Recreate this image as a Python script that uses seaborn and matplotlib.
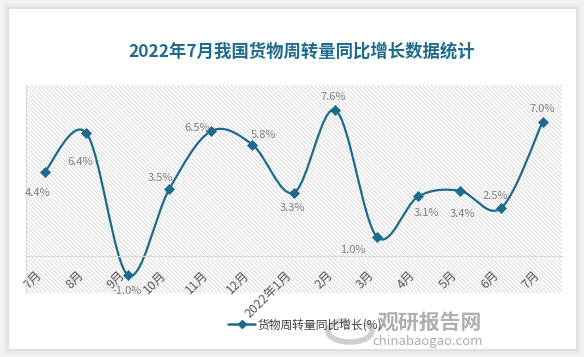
import matplotlib
matplotlib.use('Agg')
import matplotlib.pyplot as plt
import seaborn as sns
from matplotlib.path import Path
from matplotlib.patches import PathPatch, Rectangle, Arc
from matplotlib.lines import Line2D

# 数据
months = ['7月', '8月', '9月', '10月', '11月', '12月', '2022年1月',
          '2月', '3月', '4月', '5月', '6月', '7月']
growth = [4.4, 6.4, -1.0, 3.5, 6.5, 5.8, 3.3, 7.6, 1.0, 3.1, 3.4, 2.5, 7.0]
title = '2022年7月我国货物周转量同比增长数据统计'
series_name = '货物周转量同比增长(%)'

# 数据标签偏移（像素，向下为正）
label_offsets = [(-7, 21), (-6, 29), (-1, 16), (-9, -11), (-14, -3), (11, -10),
                 (-1, 15), (-2, -13), (-24, 13), (8, 17), (3, 23), (-6, -12), (0, -13)]

sns.set_style('white')
plt.rcParams['font.family'] = ['Noto Sans CJK SC', 'DejaVu Sans']
plt.rcParams['hatch.color'] = '#d4d4d4'
plt.rcParams['hatch.linewidth'] = 0.6

W, H = 584, 357
fx = lambda px: px / W
fy = lambda py: 1 - py / H
line_c = '#1c6a8c'

fig = plt.figure(figsize=(W / 100, H / 100), dpi=100)
fig.patch.set_facecolor('#f2f2f2')

# 卡片阴影 + 白底
for k, a in [(6, 0.03), (4, 0.05), (2, 0.08)]:
    fig.add_artist(Rectangle((fx(8.7 - k), fy(349 + k)), (567.3 + 2 * k) / W, (340.3 + 2 * k) / H,
                             transform=fig.transFigure, fc='#808080', alpha=a, lw=0, zorder=-3))
fig.add_artist(Rectangle((fx(8.7), fy(349)), 567.3 / W, 340.3 / H,
                         transform=fig.transFigure, fc='white', lw=0, zorder=-2))
# 斜纹绘图区
fig.add_artist(Rectangle((fx(25.7), fy(293)), (562 - 25.7) / W, (293 - 85) / H,
                         transform=fig.transFigure, fc='white', ec='#d4d4d4', lw=0,
                         hatch='\\' * 8, zorder=-1))

ax = fig.add_axes([fx(25.7), fy(293), (562 - 25.7) / W, (293 - 85) / H])
ax.set_zorder(1)
ax.patch.set_alpha(0)
for s in ['top', 'right']:
    ax.spines[s].set_visible(False)
ax.spines['left'].set_color('#d9d9d9')
ax.spines['left'].set_linewidth(0.8)
ax.spines['bottom'].set_position(('data', 0))
ax.spines['bottom'].set_color('#d9d9d9')
ax.spines['bottom'].set_linewidth(0.8)

xs = list(range(len(growth)))

# 平滑曲线（Excel 式贝塞尔）
verts = [(xs[0], growth[0])]
codes = [Path.MOVETO]
n = len(xs)
for i in range(n - 1):
    p0 = (xs[max(i - 1, 0)], growth[max(i - 1, 0)])
    p1 = (xs[i], growth[i])
    p2 = (xs[i + 1], growth[i + 1])
    p3 = (xs[min(i + 2, n - 1)], growth[min(i + 2, n - 1)])
    c1 = (p1[0] + (p2[0] - p0[0]) / 6, p1[1] + (p2[1] - p0[1]) / 6)
    c2 = (p2[0] - (p3[0] - p1[0]) / 6, p2[1] - (p3[1] - p1[1]) / 6)
    verts += [c1, c2, p2]
    codes += [Path.CURVE4] * 3
ax.add_patch(PathPatch(Path(verts, codes), fc='none', ec=line_c, lw=1.6, zorder=2))

sns.scatterplot(x=xs, y=growth, marker='D', s=26, color=line_c, edgecolor=line_c,
                linewidth=0.5, ax=ax, zorder=3, legend=False)

for x, v, (dx, dy) in zip(xs, growth, label_offsets):
    ax.annotate(f'{v:.1f}%', (x, v), xytext=(dx, -dy), textcoords='offset pixels',
                ha='center', va='center', fontsize=8, color='#7f7f7f', zorder=4)

ax.set_xlim(-0.465, 12.465)
ax.set_ylim(-1.93, 8.91)
ax.set_yticks([])
ax.set_xticks(xs)
ax.tick_params(axis='x', length=0, pad=9, labelsize=9, colors='#595959')
ax.set_xticklabels(months, rotation=45, ha='right', va='top')
ax.set_xlabel('')

fig.text(fx(301.5), fy(51.5), title, fontsize=12.5, weight='bold', color='#1f6b8c',
         ha='center', va='center')

handle = Line2D([], [], color=line_c, lw=1.8, marker='D', ms=4)
fig.legend([handle], [series_name], loc='center', bbox_to_anchor=(fx(305), fy(325)),
           frameon=False, fontsize=8.5, handlelength=2.3, handletextpad=0.2,
           labelcolor='#404040')

# 水印
fig.add_artist(Arc((fx(350), fy(331)), 44 / W, 22 / H, theta1=100, theta2=400,
                   transform=fig.transFigure, color='#c4c4c4', lw=4, alpha=0.8))
fig.text(fx(430), fy(322), '观研报告网', fontsize=15, weight='bold', color='#a6a6a6',
         ha='center', va='center', alpha=0.9)
fig.text(fx(428), fy(341), 'chinabaogao.com', fontsize=9.5, color='#a6a6a6',
         ha='center', va='center', alpha=0.9)

fig.savefig('out.png', dpi=100, facecolor=fig.get_facecolor())
